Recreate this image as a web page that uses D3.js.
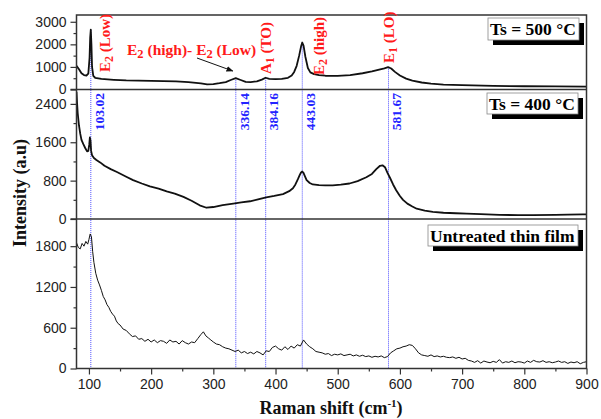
<!DOCTYPE html>
<html>
<head>
<meta charset="utf-8">
<script src="https://cdn.jsdelivr.net/npm/d3@7"></script>
<style>
  body { margin: 0; background: #fff; }
  svg { display: block; }
</style>
</head>
<body>
<script>
// Ts = 500 C spectrum
const shift500 = [80, 84, 88, 92, 96, 99, 101, 102, 103, 104, 105, 107, 110, 120, 140, 160, 180, 200, 220, 240, 260, 280, 290, 300, 310, 320, 328, 336, 344, 352, 360, 370, 378, 384, 390, 400, 410, 420, 426, 430, 434, 438, 441, 443, 445, 448, 452, 456, 462, 470, 480, 500, 520, 540, 555, 565, 575, 581, 586, 592, 600, 610, 620, 635, 650, 670, 700, 750, 800, 850, 900]
const int500 = [1050, 900, 720, 640, 620, 700, 1400, 2300, 2650, 2000, 1000, 600, 520, 470, 430, 400, 390, 380, 370, 360, 330, 270, 230, 240, 280, 330, 420, 500, 420, 340, 330, 360, 440, 520, 470, 460, 470, 520, 620, 780, 1050, 1500, 1900, 2080, 1950, 1450, 950, 760, 680, 640, 610, 600, 640, 720, 800, 870, 940, 990, 930, 780, 620, 480, 390, 310, 260, 220, 190, 160, 145, 135, 130]

// Ts = 400 C spectrum
const shift400 = [80, 81, 82, 84, 86, 88, 91, 94, 97, 99, 100.5, 101.5, 102.5, 103.5, 105, 108, 112, 118, 125, 135, 145, 160, 171, 185, 198, 212, 225, 238, 252, 265, 278, 289, 300, 315, 332, 345, 359, 372, 385, 398, 412, 422, 428, 432, 436, 439, 441, 443, 445, 447, 450, 455, 460, 470, 480, 492, 505, 519, 532, 546, 555, 562, 568, 572, 576, 580, 584, 589, 594, 600, 605, 612, 620, 627, 640, 653, 670, 690, 707, 730, 760, 790, 814, 850, 870, 894, 900]
const int400 = [2650, 2400, 2200, 1950, 1780, 1650, 1560, 1480, 1410, 1420, 1550, 1700, 1640, 1420, 1330, 1270, 1230, 1180, 1110, 1040, 980, 880, 810, 740, 680, 635, 575, 530, 460, 380, 285, 235, 250, 290, 320, 345, 370, 410, 450, 480, 520, 580, 640, 720, 830, 920, 970, 990, 960, 900, 810, 750, 720, 705, 700, 700, 715, 740, 790, 870, 940, 1040, 1110, 1120, 1080, 960, 860, 720, 600, 480, 400, 320, 260, 215, 175, 150, 130, 120, 112, 100, 85, 82, 80, 85, 90, 98, 95]

// untreated thin film spectrum
const shiftRaw = [80, 83, 86, 89, 92, 95, 98, 100, 102, 104, 106, 108, 111, 114, 117, 120, 123, 126, 129, 132, 135, 138, 141, 144, 147, 150, 155, 160, 165, 170, 175, 180, 185, 190, 195, 200, 205, 210, 215, 220, 225, 230, 235, 240, 245, 250, 255, 260, 265, 270, 275, 280, 284, 288, 292, 296, 300, 305, 310, 315, 320, 325, 330, 335, 340, 345, 350, 355, 360, 365, 370, 375, 380, 385, 390, 395, 400, 405, 410, 415, 420, 425, 430, 435, 440, 445, 450, 455, 460, 465, 470, 475, 480, 485, 490, 495, 500, 505, 510, 515, 520, 525, 530, 535, 540, 545, 550, 555, 560, 565, 570, 575, 580, 585, 590, 595, 600, 605, 610, 615, 620, 625, 630, 635, 640, 645, 650, 655, 660, 665, 670, 675, 680, 685, 690, 695, 700, 705, 710, 715, 720, 725, 730, 735, 740, 745, 750, 755, 760, 765, 770, 775, 780, 785, 790, 795, 800, 805, 810, 815, 820, 825, 830, 835, 840, 845, 850, 855, 860, 865, 870, 875, 880, 885, 890, 895, 900]
const intRaw = [1850, 1780, 1760, 1840, 1800, 1870, 1830, 1900, 1980, 1940, 1720, 1560, 1400, 1300, 1230, 1150, 1060, 1010, 940, 900, 840, 800, 770, 700, 660, 640, 580, 560, 510, 470, 480, 430, 440, 400, 430, 390, 420, 380, 410, 400, 370, 420, 390, 400, 360, 410, 380, 360, 390, 380, 440, 500, 540, 480, 450, 420, 390, 360, 350, 320, 300, 290, 270, 250, 270, 230, 250, 220, 240, 215, 250, 230, 200, 260, 250, 310, 330, 290, 270, 320, 280, 330, 300, 350, 330, 420, 360, 320, 290, 250, 240, 230, 210, 220, 190, 210, 200, 215, 190, 200, 210, 185, 200, 180, 195, 175, 185, 165, 180, 170, 185, 160, 175, 230, 260, 290, 300, 320, 330, 350, 340, 290, 230, 200, 190, 180, 200, 175, 185, 170, 180, 165, 160, 170, 150, 165, 140, 150, 120, 110, 90, 115, 80, 110, 95, 85, 105, 90, 130, 80, 100, 90, 110, 85, 100, 95, 80, 110, 90, 120, 100, 95, 115, 90, 100, 85, 95, 110, 90, 100, 75, 95, 85, 100, 70, 90, 100]

const xTicks = [100, 200, 300, 400, 500, 600, 700, 800, 900]
const xMinor = [150, 250, 350, 450, 550, 650, 750, 850]
const ticks500 = [0, 1000, 2000, 3000], minor500 = [500, 1500, 2500]
const ticks400 = [0, 800, 1600, 2400], minor400 = [400, 1200, 2000]
const ticksRaw = [0, 600, 1200, 1800], minorRaw = [300, 900, 1500]

// assigned peak positions (cm-1)
const peaks = [103.02, 336.14, 384.16, 443.03, 581.67]
const peakLabels = ['103.02', '336.14', '384.16', '443.03', '581.67']
// mode names
const modeAt = [103.02, 384.16, 443.03, 581.67]
const modeMain = ['E', 'A', 'E', 'E']
const modeSub = ['2', '1', '2', '1']
const modeRest = [' (Low)', ' (TO)', ' (high)', ' (LO)']

const W = 601, H = 419
const left = 76.5, right = 586.5
const serif = '"Times New Roman", "Liberation Serif", serif'
const sans = 'Arial, "Liberation Sans", sans-serif'
const svg = d3.select('body').append('svg').attr('width', W).attr('height', H)

const x = d3.scaleLinear().domain([80, 900]).range([left, right])

const panels = [
  { xs: shift500, ys: int500, top: 15, bottom: 89.5, max: 3300, ticks: ticks500, minor: minor500, width: 1.8, label: 'Ts = 500 °C', box: [488, 18, 91, 22] },
  { xs: shift400, ys: int400, top: 89.5, bottom: 219, max: 2700, ticks: ticks400, minor: minor400, width: 1.8, label: 'Ts = 400 °C', box: [487, 93, 91, 21] },
  { xs: shiftRaw, ys: intRaw, top: 219, bottom: 368.5, max: 2200, ticks: ticksRaw, minor: minorRaw, width: 1, label: 'Untreated thin film', box: [428, 225, 150, 21] }
]

const defs = svg.append('defs')
defs.append('marker').attr('id', 'arrow')
  .attr('viewBox', '0 0 10 10').attr('refX', 9).attr('refY', 5)
  .attr('markerWidth', 7).attr('markerHeight', 7).attr('orient', 'auto')
  .append('path').attr('d', 'M0,1 L10,5 L0,9 z').attr('fill', '#111')

panels.forEach((p, i) => {
  p.y = d3.scaleLinear().domain([0, p.max]).range([p.bottom, p.top])
  defs.append('clipPath').attr('id', 'clip' + i)
    .append('rect').attr('x', left).attr('y', p.top).attr('width', right - left).attr('height', p.bottom - p.top)
})

// blue dotted drop lines, starting from the 500 C curve
const y500 = panels[0].y
const interp = v => {
  const j = d3.bisectLeft(shift500, v)
  const t = (v - shift500[j - 1]) / (shift500[j] - shift500[j - 1])
  return int500[j - 1] + t * (int500[j] - int500[j - 1])
}
svg.append('g').selectAll('line').data(peaks).enter().append('line')
  .attr('x1', d => x(d)).attr('x2', d => x(d))
  .attr('y1', d => y500(interp(d))).attr('y2', panels[2].bottom)
  .attr('stroke', '#3b3bff').attr('stroke-width', 0.9).attr('stroke-dasharray', '1,1')

// spectra
panels.forEach((p, i) => {
  const line = d3.line().x(d => x(d[0])).y(d => p.y(d[1]))
  svg.append('path')
    .datum(p.xs.map((v, k) => [v, p.ys[k]]))
    .attr('clip-path', 'url(#clip' + i + ')')
    .attr('d', line).attr('fill', 'none')
    .attr('stroke', '#111').attr('stroke-width', p.width).attr('stroke-linejoin', 'round')
})

// y axes
panels.forEach(p => {
  const g = svg.append('g').attr('transform', `translate(${left},0)`)
    .call(d3.axisLeft(p.y).tickValues(p.ticks).tickSize(6).tickPadding(4).tickFormat(d3.format('d')))
  g.select('.domain').remove()
  g.selectAll('text').attr('font-family', sans).attr('font-size', 14).attr('fill', '#222')
  g.selectAll('line').attr('stroke', '#333').attr('stroke-width', 1.2)
  const m = svg.append('g').attr('transform', `translate(${left},0)`)
    .call(d3.axisLeft(p.y).tickValues(p.minor).tickSize(3).tickFormat(''))
  m.select('.domain').remove()
  m.selectAll('line').attr('stroke', '#333').attr('stroke-width', 1.2)
})

// x axis
const bottom = panels[2].bottom
const gx = svg.append('g').attr('transform', `translate(0,${bottom})`)
  .call(d3.axisBottom(x).tickValues(xTicks).tickSize(6).tickPadding(5))
gx.select('.domain').remove()
gx.selectAll('text').attr('font-family', sans).attr('font-size', 14).attr('fill', '#222')
gx.selectAll('line').attr('stroke', '#333').attr('stroke-width', 1.2)
const gm = svg.append('g').attr('transform', `translate(0,${bottom})`)
  .call(d3.axisBottom(x).tickValues(xMinor).tickSize(3).tickFormat(''))
gm.select('.domain').remove()
gm.selectAll('line').attr('stroke', '#333').attr('stroke-width', 1.2)

// frame and panel separators
svg.append('rect').attr('x', left).attr('y', panels[0].top)
  .attr('width', right - left).attr('height', bottom - panels[0].top)
  .attr('fill', 'none').attr('stroke', '#333').attr('stroke-width', 1.5)
svg.selectAll('.sep').data([panels[0].bottom, panels[1].bottom]).enter().append('line')
  .attr('x1', left - 6).attr('x2', right).attr('y1', d => d).attr('y2', d => d)
  .attr('stroke', '#333').attr('stroke-width', 1.5)

// blue peak labels
svg.append('g').selectAll('text').data(peaks).enter().append('text')
  .attr('transform', d => `translate(${x(d) + 8},93) rotate(-90)`)
  .attr('text-anchor', 'end').attr('dy', '0.35em')
  .attr('font-family', serif).attr('font-weight', 'bold')
  .attr('font-size', 13.5).attr('fill', '#2323ff')
  .text((d, i) => peakLabels[i])

// red mode labels (offset from the line, bottom edge of the text)
const modeDx = [14, 0, 16, 0]
const modeBase = [72, 74, 75, 63]
const ml = svg.append('g').selectAll('text').data(modeAt).enter().append('text')
  .attr('transform', (d, i) => `translate(${x(d) + modeDx[i]},${modeBase[i]}) rotate(-90)`)
  .attr('dy', '0.35em')
  .attr('font-family', serif).attr('font-weight', 'bold').attr('font-size', 15).attr('fill', '#ff1a1a')
ml.append('tspan').text((d, i) => modeMain[i])
ml.append('tspan').attr('font-size', 12).attr('dy', 3).text((d, i) => modeSub[i])
ml.append('tspan').attr('dy', -3).text((d, i) => modeRest[i])

const combo = svg.append('text').attr('x', 127).attr('y', 55)
  .attr('font-family', serif).attr('font-weight', 'bold').attr('font-size', 15.5).attr('fill', '#ff1a1a')
combo.append('tspan').text('E')
combo.append('tspan').attr('font-size', 12.5).attr('dy', 3).text('2')
combo.append('tspan').attr('dy', -3).text(' (high)- E')
combo.append('tspan').attr('font-size', 12.5).attr('dy', 3).text('2')
combo.append('tspan').attr('dy', -3).text(' (Low)')

svg.append('line').attr('x1', 197).attr('y1', 58).attr('x2', x(336.14) - 3).attr('y2', 71)
  .attr('stroke', '#111').attr('stroke-width', 1).attr('marker-end', 'url(#arrow)')

// legend boxes with drop shadow
panels.forEach(p => {
  const [bx, by, bw, bh] = p.box
  svg.append('rect').attr('x', bx + 5).attr('y', by + 5).attr('width', bw).attr('height', bh).attr('fill', '#000')
  svg.append('rect').attr('x', bx).attr('y', by).attr('width', bw).attr('height', bh)
    .attr('fill', '#fff').attr('stroke', '#888').attr('stroke-width', 0.8)
  svg.append('text').attr('x', bx + 2).attr('y', by + bh / 2).attr('dy', '0.35em')
    .attr('font-family', serif).attr('font-weight', 'bold').attr('font-size', 17.5).attr('fill', '#000')
    .text(p.label)
})

// axis titles
const xt = svg.append('text').attr('x', 331).attr('y', 414).attr('text-anchor', 'middle')
  .attr('font-family', serif).attr('font-weight', 'bold').attr('font-size', 18).attr('fill', '#111')
xt.append('tspan').text('Raman shift (cm')
xt.append('tspan').attr('font-size', 11).attr('dy', -7).text('-1')
xt.append('tspan').attr('dy', 7).text(')')

svg.append('text').attr('transform', 'translate(26,193) rotate(-90)').attr('text-anchor', 'middle')
  .attr('font-family', serif).attr('font-weight', 'bold').attr('font-size', 18).attr('fill', '#111')
  .text('Intensity (a.u)')
</script>
</body>
</html>
